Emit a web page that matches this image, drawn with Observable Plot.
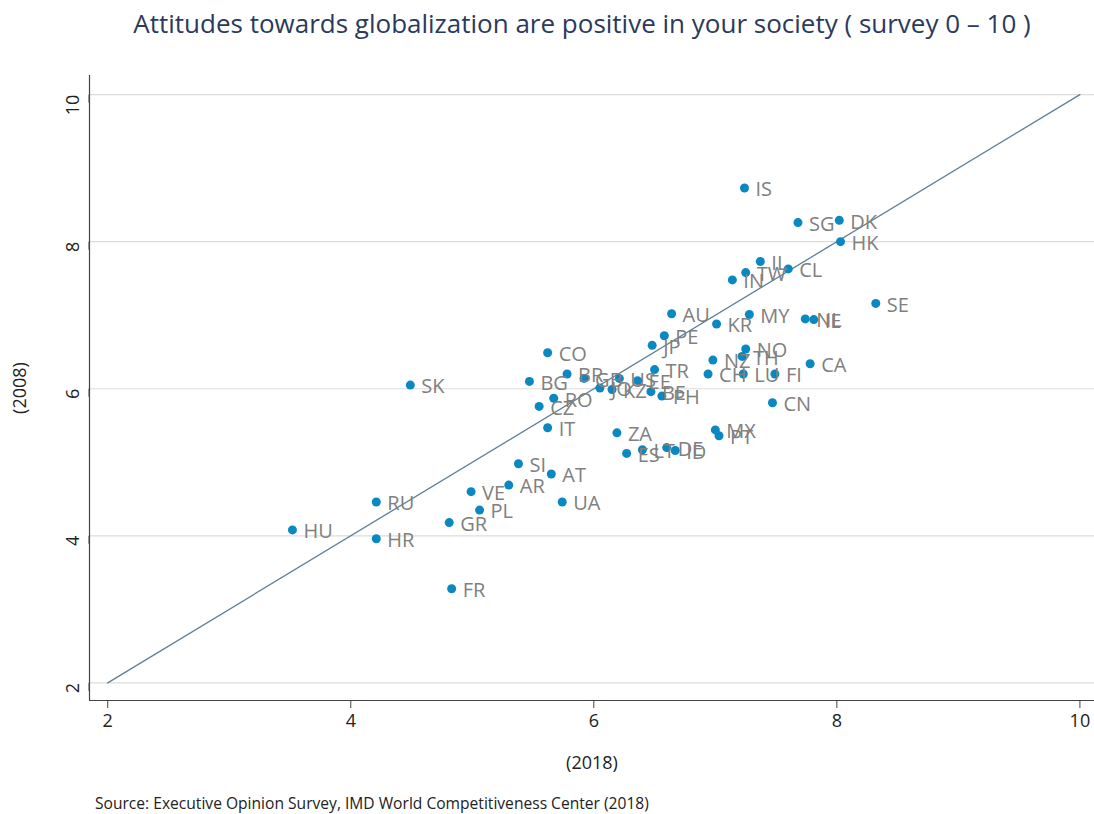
<!DOCTYPE html>
<html>
<head>
<meta charset="utf-8">
<script src="https://cdn.jsdelivr.net/npm/d3@7"></script>
<script src="https://cdn.jsdelivr.net/npm/@observablehq/plot@0.6"></script>
<style>
  body { margin: 0; background: #fff; width: 1094px; height: 814px; overflow: hidden; }
  #title { height: 48px; line-height: 46px; text-align: center; font-family: "Open Sans", sans-serif; font-size: 26px; color: #2b3a5c; letter-spacing: 0px; padding-left: 70px; }
  #source { font-family: "Open Sans", sans-serif; font-size: 15.6px; color: #222; padding-left: 95px; margin-top: 4px; letter-spacing: 0px; }
</style>
</head>
<body>
<div id="title">Attitudes towards globalization are positive in your society ( survey 0 – 10 )</div>
<div id="chart"></div>
<div id="source">Source: Executive Opinion Survey, IMD World Competitiveness Center (2018)</div>
<script>
const countries = ["IS","SG","DK","HK","IL","TW","IN","CL","SE","AU","MY","NL","IE","KR","PE","JP","CO","NO","TH","NZ","CA","CH","LU","FI","CN","MX","PT","TR","BR","BG","RO","CZ","IT","GB","JO","KZ","US","EE","BE","PH","ZA","ES","LT","DE","ID","SI","AT","AR","VE","UA","PL","RU","GR","HU","HR","FR","SK"];
const score2018 = [7.24,7.68,8.02,8.03,7.37,7.25,7.14,7.60,8.32,6.64,7.28,7.74,7.81,7.01,6.58,6.48,5.62,7.25,7.22,6.98,7.78,6.94,7.23,7.49,7.47,7.00,7.03,6.50,5.78,5.47,5.67,5.55,5.62,5.92,6.05,6.15,6.21,6.36,6.47,6.56,6.19,6.27,6.40,6.60,6.67,5.38,5.65,5.30,4.99,5.74,5.06,4.21,4.81,3.52,4.21,4.83,4.49];
const score2008 = [8.73,8.26,8.29,8.00,7.73,7.58,7.48,7.63,7.16,7.02,7.01,6.95,6.94,6.88,6.72,6.59,6.49,6.54,6.44,6.39,6.34,6.20,6.20,6.20,5.81,5.44,5.36,6.26,6.20,6.10,5.87,5.76,5.47,6.14,6.01,5.99,6.14,6.11,5.96,5.90,5.40,5.12,5.17,5.20,5.16,4.98,4.84,4.69,4.60,4.46,4.35,4.46,4.18,4.08,3.96,3.28,6.05];
const ticks = [2, 4, 6, 8, 10];
const diagonal = [2, 10];
const xDomain = [1.85, 10.12];
const yDomain = [1.76, 10.26];

const data = countries.map((c, i) => ({c, x: score2018[i], y: score2008[i]}));
const diag = diagonal.map(v => ({x: v, y: v}));

const font = "Open Sans, sans-serif";
const chart = Plot.plot({
  width: 1094,
  height: 740,
  marginLeft: 89,
  marginRight: 0,
  marginTop: 27,
  marginBottom: 88,
  style: {fontFamily: font, fontSize: "17px", color: "#222", background: "#fff", overflow: "visible"},
  x: {domain: xDomain, ticks: ticks, tickFormat: "d", label: "(2018)", labelAnchor: "center", labelArrow: "none", labelOffset: 68},
  y: {domain: yDomain, ticks: ticks, tickFormat: "d", label: "(2008)", labelAnchor: "center", labelArrow: "none", labelOffset: 76},
  marks: [
    Plot.gridY(ticks, {stroke: "#dcdcdc", strokeOpacity: 1, strokeWidth: 1.2}),
    Plot.ruleX([xDomain[0]], {stroke: "#444", strokeWidth: 1.2}),
    Plot.ruleY([yDomain[0]], {stroke: "#444", strokeWidth: 1.2}),
    Plot.axisX(ticks, {tickSize: 8, tickPadding: 6, stroke: "#444", fontSize: 18, tickFormat: "d", label: "(2018)", labelAnchor: "center", labelArrow: "none", labelOffset: 68}),
    Plot.axisY(ticks, {tickSize: 8, tickPadding: 8, rotate: -90, stroke: "#444", fontSize: 18, tickFormat: "d", label: "(2008)", labelAnchor: "center", labelArrow: "none", labelOffset: 76}),
    Plot.line(diag, {x: "x", y: "y", stroke: "#5d7f99", strokeWidth: 1.3}),
    Plot.dot(data, {x: "x", y: "y", r: 4.5, fill: "#0a88c2", stroke: "none"}),
    Plot.text(data, {x: "x", y: "y", text: "c", dx: 11, dy: 2, textAnchor: "start", fill: "#808080", fontSize: 20})
  ]
});
document.getElementById("chart").appendChild(chart);
</script>
</body>
</html>
